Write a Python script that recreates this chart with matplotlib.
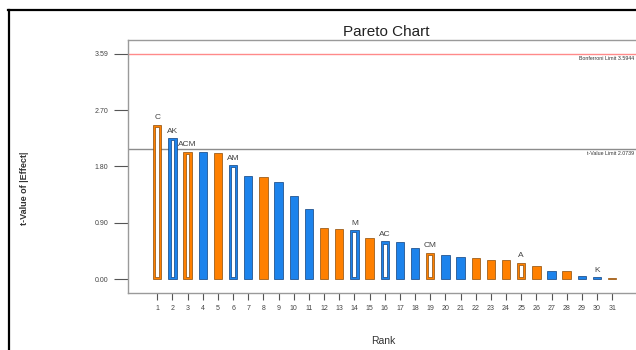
import matplotlib
matplotlib.use("Agg")
import matplotlib.pyplot as plt
from matplotlib.lines import Line2D
from matplotlib.transforms import blended_transform_factory

plt.rcParams["font.family"] = ["Liberation Sans", "DejaVu Sans"]

# Pareto data: |t| of each effect by rank
ranks = list(range(1, 32))
t_values = [2.466, 2.254, 2.035, 2.026, 2.010, 1.823, 1.648, 1.627, 1.547, 1.329,
            1.116, 0.824, 0.797, 0.786, 0.664, 0.606, 0.600, 0.494, 0.424, 0.388,
            0.356, 0.345, 0.313, 0.313, 0.265, 0.212, 0.137, 0.128, 0.057, 0.032,
            0.016]
effect_names = ["C", "AK", "ACM", "", "", "AM", "", "", "", "",
                "", "", "", "M", "", "AC", "", "", "CM", "",
                "", "", "", "", "A", "", "", "", "", "K",
                ""]
bar_groups = ["o", "b", "o", "b", "o", "b", "b", "o", "b", "b",
              "b", "o", "o", "b", "o", "b", "b", "b", "o", "b",
              "b", "o", "o", "o", "o", "o", "b", "o", "b", "b",
              "o"]
hollow = [True, True, True, False, False, True, False, False, False, False,
          False, False, False, True, False, True, False, False, True, False,
          False, False, False, False, True, False, False, False, False, True,
          False]

bonferroni_limit = 3.5944
t_value_limit = 2.0739
y_ticks = [0.0, 0.90, 1.80, 2.70, bonferroni_limit]

fill_colors = {"o": "#FF8000", "b": "#1C83EC"}
edge_colors = {"o": "#8A4C08", "b": "#0E3F7C"}

fig = plt.figure(figsize=(6.36, 3.5), dpi=100)
ax = fig.add_axes([128 / 636, 57 / 350, 516 / 636, 253 / 350])

bar_w = 0.55
band_x = 0.15   # coloured rim of hollow bars, data units
band_y = 0.035

for r, v, g, h in zip(ranks, t_values, bar_groups, hollow):
    ax.bar(r, v, width=bar_w, color=fill_colors[g], edgecolor=edge_colors[g],
           linewidth=0.5, zorder=3)
    if h and v > 2 * band_y:
        ax.bar(r, v - 2 * band_y, bottom=band_y, width=bar_w - 2 * band_x,
               color="white", edgecolor=edge_colors[g], linewidth=0.5, zorder=4)

for r, v, name in zip(ranks, t_values, effect_names):
    if name:
        ax.annotate(name, (r, v), xytext=(0, 2.5), textcoords="offset points",
                    ha="center", va="bottom", fontsize=6, color="#444444")

# limit lines with their labels at the right end
ax.axhline(bonferroni_limit, color="#FF8A8A", linewidth=1.0, zorder=2)
ax.axhline(t_value_limit, color="#8C8C8C", linewidth=1.0, zorder=2)
label_tr = blended_transform_factory(fig.transFigure, ax.transData)
ax.text(634 / 636, bonferroni_limit - 0.03, f"Bonferroni Limit {bonferroni_limit:.4f}",
        transform=label_tr, ha="right", va="top", fontsize=3.8, color="#333333")
ax.text(634 / 636, t_value_limit - 0.03, f"t-Value Limit {t_value_limit:.4f}",
        transform=label_tr, ha="right", va="top", fontsize=3.8, color="#333333")

ax.set_xlim(-0.93, 33.1)
ax.set_ylim(-0.218, 3.817)

ax.set_xticks(ranks)
ax.set_xticklabels([str(r) for r in ranks])
ax.set_yticks(y_ticks)
ax.set_yticklabels([f"{t:.2f}" for t in y_ticks])
ax.tick_params(axis="y", length=10, width=0.8, color="#555555", pad=4,
               labelsize=5, labelcolor="#444444")
ax.tick_params(axis="x", length=5, width=0.8, color="#555555", pad=4,
               labelsize=5, labelcolor="#444444")

for side in ["left", "top", "bottom", "right"]:
    ax.spines[side].set_color("#9A9A9A")
    ax.spines[side].set_linewidth(1.0)

ax.set_title("Pareto Chart", fontsize=11, color="#222222", pad=3)
fig.text(383 / 636, 1 - 341 / 350, "Rank", ha="center", va="center",
         fontsize=7.5, color="#333333")
fig.text(25 / 636, 1 - 188 / 350, "t-Value of |Effect|", ha="center", va="center",
         rotation=90, fontsize=6.5, fontweight="bold", color="#333333")

# outer frame, top and left edges
fig.add_artist(Line2D([8 / 636, 1.0], [1 - 9.5 / 350, 1 - 9.5 / 350],
                      color="black", linewidth=1.6, transform=fig.transFigure))
fig.add_artist(Line2D([9 / 636, 9 / 636], [0.0, 1 - 9.5 / 350],
                      color="black", linewidth=1.6, transform=fig.transFigure))

fig.savefig("out.png", dpi=100)
